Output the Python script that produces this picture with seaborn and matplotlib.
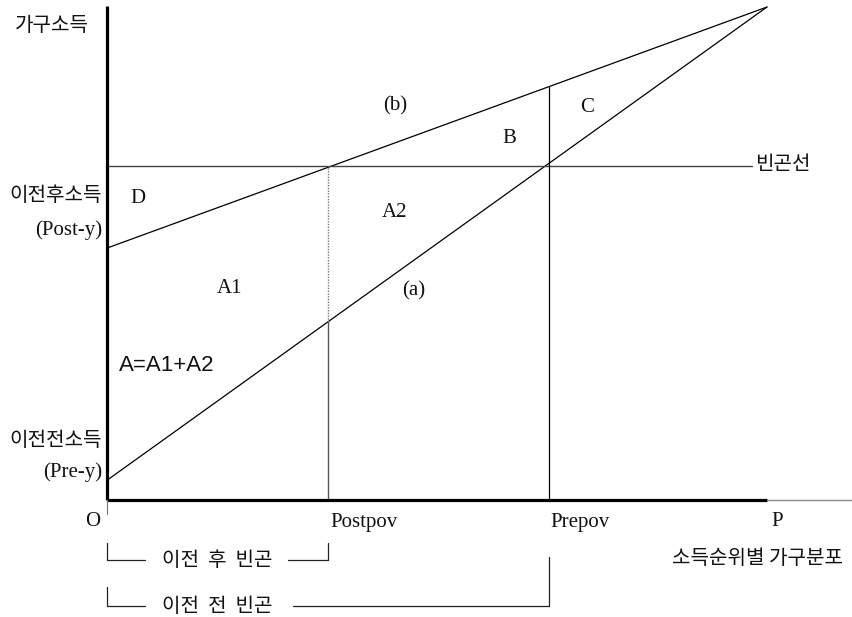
import numpy as np
import pandas as pd
import matplotlib
matplotlib.use("Agg")
import matplotlib.pyplot as plt
import seaborn as sns

# diagram values (x: O=0 .. P=1, y: 0 .. top of lines=1)
pre_y = 0.04      # 이전전소득
post_y = 0.511    # 이전후소득
top_y = 1.0
pov_line = 0.677  # 빈곤선
postpov = 0.335
prepov = 0.67
line_names = ["(a)", "(b)"]
line_x = [0.0, 1.0]

sns.set_theme(style="white")
plt.rcParams['font.family'] = ['Liberation Serif', 'Noto Sans CJK KR']

fig = plt.figure(figsize=(8.52, 6.17), dpi=100)
ax = fig.add_axes([0, 0, 1, 1])
ax.set_xlim(-107 / 660, (852 - 107) / 660)
ax.set_ylim((500 - 617) / 493, 500 / 493)
ax.axis("off")


def P(x, y):
    # pixel position -> diagram coords (layout helper for labels)
    return (x - 107) / 660, (500 - y) / 493


df = pd.DataFrame({
    "x": line_x * 2,
    "y": [pre_y, top_y, post_y, top_y],
    "line": [line_names[0]] * 2 + [line_names[1]] * 2,
})
sns.lineplot(data=df, x="x", y="y", units="line", estimator=None,
             color="black", linewidth=0.9, legend=False, ax=ax)

# poverty line
ax.plot([0, P(752, 0)[0]], [pov_line] * 2, color="#444444", lw=1.0)
# postpov: dotted above line (a), solid below
ya_post = pre_y + (top_y - pre_y) * postpov
ax.plot([postpov] * 2, [ya_post, pov_line], color="#777777", lw=1.0, ls=(0, (1, 1)))
ax.plot([postpov] * 2, [0, ya_post], color="#555555", lw=1.0)
# prepov: up to line (b)
yb_pre = post_y + (top_y - post_y) * prepov
ax.plot([prepov] * 2, [0, yb_pre], color="black", lw=0.9)

# axes
ax.plot([0, 0], [0, 1.003], color="black", lw=2.3, solid_capstyle="butt")
ax.plot([0, 1], [0, 0], color="black", lw=2.3, solid_capstyle="butt")
ax.plot([1, P(852, 0)[0]], [0, 0], color="#888888", lw=1.0)
ax.plot([0, 0], [0, P(0, 514)[1]], color="#777777", lw=0.8)

fs = 15
ks = 14.5
kr = ['Noto Sans CJK KR', 'DejaVu Sans']
sans = ['Liberation Sans', 'Noto Sans CJK KR']


def txt(x, y, s, ha="center", family=None, size=fs):
    ax.text(*P(x, y), s, ha=ha, va="center", fontsize=size,
            family=family if family else plt.rcParams['font.family'], color="#111111")


txt(15, 25, "가구소득", ha="left", family=kr, size=ks)
txt(102, 195, "이전후소득", ha="right", family=kr, size=ks)
txt(102, 230, "(Post-y)", ha="right")
txt(102, 440, "이전전소득", ha="right", family=kr, size=ks)
txt(102, 472, "(Pre-y)", ha="right")
txt(93, 522, "O")
txt(330, 522, "Postpov", ha="left")
txt(550, 522, "Prepov", ha="left")
txt(777, 522, "P")
txt(757, 559, "소득순위별 가구분포", family=kr, size=ks)
txt(755, 164, "빈곤선", ha="left", family=kr, size=ks)
txt(138, 198, "D")
txt(395, 106, "(b)")
txt(509, 138, "B")
txt(587, 107, "C")
txt(395, 212, "A2")
txt(230, 288, "A1")
txt(414, 291, "(a)")
txt(167, 365, "A=A1+A2", family=sans, size=16)

# brackets
for yb, ytop, xr, xs, label in [(560, 543, 328, 288, "이전 후 빈곤"),
                                 (606, 587, 549, 293, "이전 전 빈곤")]:
    x0, y0 = P(107, yb)
    x1, _ = P(145, yb)
    x2, _ = P(xs, yb)
    x3, y3 = P(xr, ytop if xr == 328 else 557)
    _, y4 = P(0, ytop)
    ax.plot([x0, x0, x1], [y4, y0, y0], color="#222222", lw=0.9)
    ax.plot([x2, x3, x3], [y0, y0, y3], color="#222222", lw=0.9)
    txt(217, yb, label.replace(" ", "  "), family=kr, size=ks)

fig.savefig("out.png", dpi=100)
